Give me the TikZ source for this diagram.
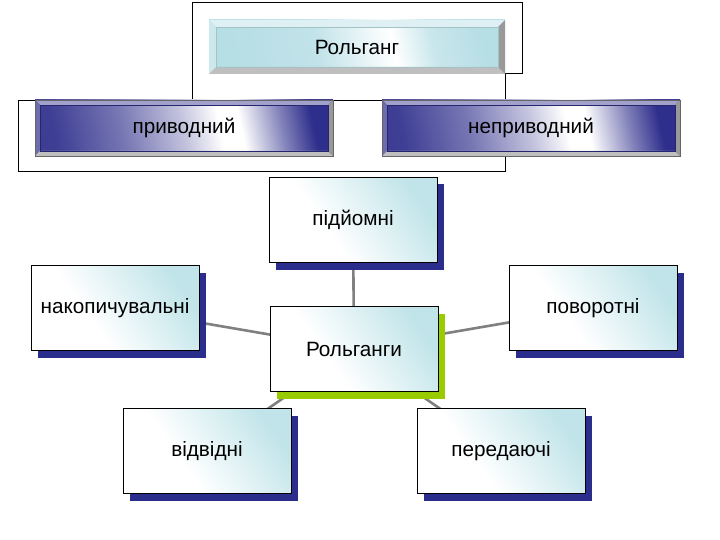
\documentclass[tikz,border=0pt]{standalone}
\usepackage{fontspec}
\setmainfont{Liberation Sans}
\usetikzlibrary{shadows}
\definecolor{bnavy}{RGB}{46,46,140}
\definecolor{snavy}{RGB}{43,45,140}
\definecolor{lcyan}{RGB}{192,228,233}
\definecolor{bcyan}{RGB}{182,222,229}
\definecolor{sgreen}{RGB}{153,204,0}
\definecolor{lgray}{RGB}{128,128,128}
\pgfdeclarehorizontalshading{cysh}{100bp}{color(0bp)=(white); color(40bp)=(white); color(75bp)=(lcyan); color(100bp)=(lcyan)}
\pgfdeclarehorizontalshading{bluesh}{100bp}{color(0bp)=(bnavy); color(25bp)=(bnavy!92!white); color(38bp)=(bnavy!65!white); color(50bp)=(bnavy!28!white); color(57bp)=(white); color(61bp)=(white); color(69bp)=(bnavy!60!white); color(75bp)=(bnavy); color(100bp)=(bnavy)}
\pgfdeclarehorizontalshading{topsh}{100bp}{color(0bp)=(bcyan); color(25bp)=(bcyan); color(42bp)=(bcyan!85!white); color(57bp)=(white); color(65bp)=(bcyan!75!white); color(75bp)=(bcyan); color(100bp)=(bcyan)}
\pgfdeclarelayer{background}
\pgfsetlayers{background,main}
\begin{document}
\begin{tikzpicture}[x=1pt,y=-1pt,
  every node/.style={font=\fontsize{20.7}{24}\selectfont, text=black},
  cbox/.style={draw=black, line width=0.8pt, shading=cysh, shading angle=35,
    minimum width=168, minimum height=85, inner sep=0pt,
    drop shadow={shadow xshift=7pt, shadow yshift=-7pt, fill=#1, opacity=1}},
  cbox/.default=snavy,
  bevel/.style n args={3}{path picture={
    \fill[#1!45!white] (path picture bounding box.north west) -- (path picture bounding box.north east)
      -- ([xshift=-#2,yshift=-#2]path picture bounding box.north east) -- ([xshift=#2,yshift=-#2]path picture bounding box.north west) -- cycle;
    \fill[#1!70!white] (path picture bounding box.north west) -- (path picture bounding box.south west)
      -- ([xshift=#2,yshift=#2]path picture bounding box.south west) -- ([xshift=#2,yshift=-#2]path picture bounding box.north west) -- cycle;
    \fill[gray!50] (path picture bounding box.south west) -- (path picture bounding box.south east)
      -- ([xshift=-#2,yshift=#2]path picture bounding box.south east) -- ([xshift=#2,yshift=#2]path picture bounding box.south west) -- cycle;
    \fill[gray!80] (path picture bounding box.north east) -- (path picture bounding box.south east)
      -- ([xshift=-#2,yshift=#2]path picture bounding box.south east) -- ([xshift=-#2,yshift=-#2]path picture bounding box.north east) -- cycle;
    \draw[#3, line width=0.5pt] ([xshift=#2,yshift=-#2]path picture bounding box.north west) rectangle ([xshift=-#2,yshift=#2]path picture bounding box.south east);
  }},
  bluebox/.style={draw=black!60, line width=0.6pt, shading=bluesh, shading angle=12,
    minimum width=298, minimum height=56, inner sep=0pt, bevel={bnavy}{5pt}{bnavy!80!black}},
  topbox/.style={draw=none, shading=topsh, shading angle=12,
    minimum width=296, minimum height=54, inner sep=0pt, bevel={bcyan}{7pt}{bcyan!70!gray}},
  conn/.style={draw=lgray, line width=2.6pt}
]
\useasboundingbox (0,0) rectangle (720,540);
% frame
\draw[line width=0.8pt] (192,100) -- (192,2) -- (522,2) -- (522,73) -- (505,73) -- (505,171) -- (18,171) -- (18,100) -- (505,100);
% top boxes
\node[topbox] (rg) at (357,47) {Рольганг};
\node[bluebox] (priv) at (184,128) {приводний};
\node[bluebox] (nepriv) at (531,128) {неприводний};
% lower diagram
\node[cbox] (pid) at (353,220) {підйомні};
\node[cbox=sgreen] (ctr) at (354,349) {Рольганги};
\node[cbox] (nak) at (115,308) {накопичувальні};
\node[cbox] (pov) at (593,308) {поворотні};
\node[cbox] (vid) at (207,451) {відвідні};
\node[cbox] (per) at (501,451) {передаючі};
\begin{pgfonlayer}{background}
\draw[conn] (ctr.center) -- (pid.center);
\draw[conn] (ctr.center) -- (nak.center);
\draw[conn] (ctr.center) -- (pov.center);
\draw[conn] (ctr.center) -- (vid.center);
\draw[conn] (ctr.center) -- (per.center);
\end{pgfonlayer}
\end{tikzpicture}
\end{document}
